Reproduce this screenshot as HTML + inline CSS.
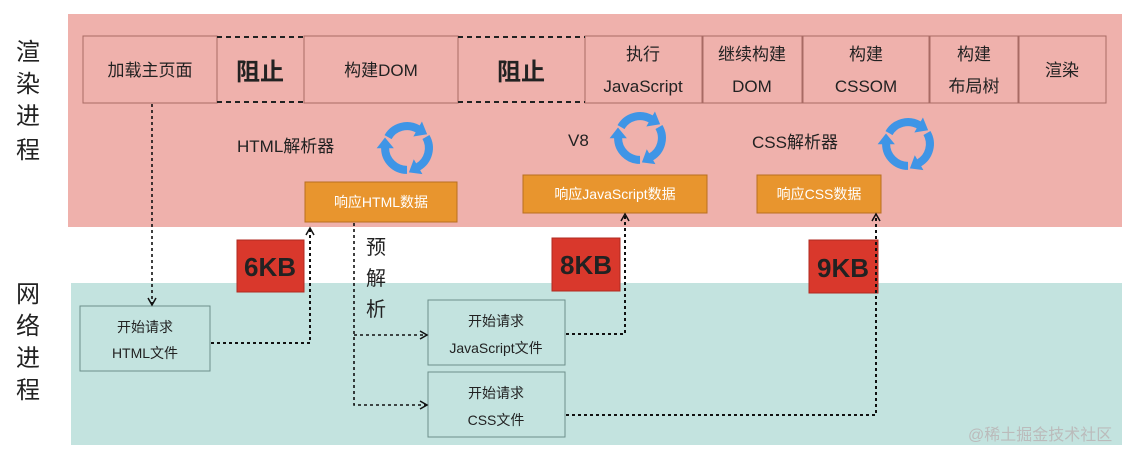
<!DOCTYPE html>
<html><head><meta charset="utf-8"><style>
html,body{margin:0;padding:0;background:#fff;}
svg text{font-family:"Liberation Sans","Noto Sans CJK SC",sans-serif;fill:#222;}
</style></head><body>
<svg width="1142" height="459" viewBox="0 0 1142 459" xmlns="http://www.w3.org/2000/svg">
<defs>
<g id="cyc">
 <g id="seg"><path d="M-16.5,-9.5 A19,19 0 0 1 9.5,-16.5" fill="none" stroke="#3f95e6" stroke-width="7"/>
 <polygon points="17.5,-12 13,-23 5.5,-10" fill="#3f95e6"/></g>
 <use href="#seg" transform="rotate(120)"/>
 <use href="#seg" transform="rotate(240)"/>
</g>
<marker id="ar" markerWidth="10" markerHeight="10" refX="8" refY="5" orient="auto" markerUnits="userSpaceOnUse">
<path d="M1,1 L8,5 L1,9" fill="none" stroke="#111" stroke-width="1.5"/></marker>
</defs>
<rect x="68" y="14" width="1054" height="213" fill="#efb1ac"/>
<rect x="71" y="283" width="1051" height="162" fill="#c3e3df"/>
<g font-size="24">
<text x="16" y="60">渲</text><text x="16" y="92">染</text><text x="16" y="124">进</text><text x="16" y="158">程</text>
<text x="16" y="302">网</text><text x="16" y="334">络</text><text x="16" y="366">进</text><text x="16" y="398">程</text>
</g>
<g fill="none" stroke="#a86a64" stroke-width="1">
<rect x="83" y="36" width="134" height="67"/>
<rect x="304" y="36" width="154" height="67"/>
<rect x="585" y="36" width="117" height="67"/>
<rect x="703" y="36" width="99" height="67"/>
<rect x="803" y="36" width="126" height="67"/>
<rect x="930" y="36" width="88" height="67"/>
<rect x="1019" y="36" width="87" height="67"/>
</g>
<g stroke="#222" stroke-width="2" stroke-dasharray="5,4">
<line x1="217" y1="37" x2="304" y2="37"/><line x1="217" y1="102" x2="304" y2="102"/>
<line x1="458" y1="37" x2="585" y2="37"/><line x1="458" y1="102" x2="585" y2="102"/>
</g>
<g font-size="17" text-anchor="middle">
<text x="150" y="76">加载主页面</text>
<text x="381" y="76">构建DOM</text>
<text x="643" y="60">执行</text><text x="643" y="92">JavaScript</text>
<text x="752" y="60">继续构建</text><text x="752" y="92">DOM</text>
<text x="866" y="60">构建</text><text x="866" y="92">CSSOM</text>
<text x="974" y="60">构建</text><text x="974" y="92">布局树</text>
<text x="1062" y="76">渲染</text>
</g>
<g font-size="24" font-weight="bold" text-anchor="middle">
<text x="260" y="80">阻止</text><text x="521" y="80">阻止</text>
</g>
<g font-size="17">
<text x="237" y="152">HTML解析器</text>
<text x="568" y="146">V8</text>
<text x="752" y="148">CSS解析器</text>
</g>
<use href="#cyc" transform="translate(407,148) scale(1.15)"/>
<use href="#cyc" transform="translate(640,138) scale(1.15)"/>
<use href="#cyc" transform="translate(908,144) scale(1.15)"/>
<g fill="#e8952e" stroke="#b86e20" stroke-width="1">
<rect x="305" y="182" width="152" height="40"/>
<rect x="523" y="175" width="184" height="38"/>
<rect x="757" y="175" width="124" height="38"/>
</g>
<g font-size="14" text-anchor="middle">
<text x="381" y="207" style="fill:#fff">响应HTML数据</text>
<text x="615" y="199" style="fill:#fff">响应JavaScript数据</text>
<text x="819" y="199" style="fill:#fff">响应CSS数据</text>
</g>
<g fill="#d9382c" stroke="#b02a20">
<rect x="237" y="240" width="67" height="52"/>
<rect x="552" y="238" width="68" height="53"/>
<rect x="809" y="240" width="69" height="53"/>
</g>
<g font-size="26" font-weight="bold" text-anchor="middle">
<text x="270" y="276">6KB</text><text x="586" y="274">8KB</text><text x="843" y="277">9KB</text>
</g>
<g font-size="20"><text x="366" y="254">预</text><text x="366" y="285">解</text><text x="366" y="316">析</text></g>
<g fill="none" stroke="#6d8f8b" stroke-width="1">
<rect x="80" y="306" width="130" height="65"/>
<rect x="428" y="300" width="137" height="65"/>
<rect x="428" y="372" width="137" height="65"/>
</g>
<g font-size="14" text-anchor="middle">
<text x="145" y="332">开始请求</text><text x="145" y="358">HTML文件</text>
<text x="496" y="326">开始请求</text><text x="496" y="353">JavaScript文件</text>
<text x="496" y="398">开始请求</text><text x="496" y="425">CSS文件</text>
</g>
<g fill="none" stroke="#111" stroke-width="1.6" stroke-dasharray="3,3">
<path d="M152,104 V305" marker-end="url(#ar)"/>
<path d="M211,343 H310 V228" marker-end="url(#ar)" stroke-width="2"/>
<path d="M354,223 V405 H427" marker-end="url(#ar)"/>
<path d="M354,335 H427" marker-end="url(#ar)"/>
<path d="M566,334 H625 V214" marker-end="url(#ar)" stroke-width="2"/>
<path d="M566,415 H876 V214" marker-end="url(#ar)" stroke-width="2"/>
</g>
<text x="968" y="440" font-size="16" style="fill:#bbb">@稀土掘金技术社区</text>
</svg>
</body></html>
